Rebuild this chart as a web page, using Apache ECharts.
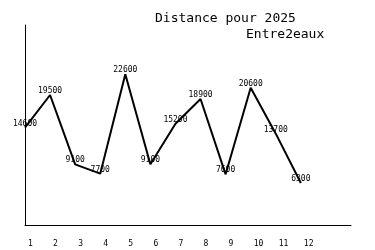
<!DOCTYPE html>
<html><head><meta charset="utf-8">
<script src="https://cdn.jsdelivr.net/npm/echarts@6/dist/echarts.min.js"></script>
<style>html,body{margin:0;padding:0;background:#fff}#c{width:375px;height:250px}</style>
</head><body><div id="c"></div>
<script>
var months = [1,2,3,4,5,6,7,8,9,10,11,12];
var distances = [14600,19500,9100,7700,22600,9100,15200,18900,7600,20600,13700,6300];
var titleText = 'Distance pour 2025';
var subtitleText = 'Entre2eaux';

var chart = echarts.init(document.getElementById('c'), null, {renderer:'canvas'});
chart.setOption({
  animation:false,
  backgroundColor:'#fff',
  title:[
    {text:titleText, left:155, top:12, padding:0,
     textStyle:{fontFamily:'DejaVu Sans Mono', fontSize:13, fontWeight:'normal', color:'#000'}},
    {text:subtitleText, left:246, top:28, padding:0,
     textStyle:{fontFamily:'DejaVu Sans Mono', fontSize:13, fontWeight:'normal', color:'#000'}}
  ],
  grid:{left:25, right:24, top:25, bottom:25, containLabel:false},
  xAxis:{type:'value', min:1, max:14, interval:1,
    axisLine:{show:true, onZero:false, lineStyle:{color:'#000', width:1}},
    axisTick:{show:false}, splitLine:{show:false},
    axisLabel:{show:true, color:'#000', fontFamily:'DejaVu Sans Mono', fontSize:8,
      align:'left', margin:15, padding:[0,0,0,3],
      formatter:function(v){return v<=12 ? String(v) : '';}}},
  yAxis:{type:'value', min:0, max:30000,
    axisLine:{show:true, lineStyle:{color:'#000', width:1}},
    axisTick:{show:false}, axisLabel:{show:false}, splitLine:{show:false}},
  series:[{
    type:'line',
    data: months.map(function(m,i){return [m, distances[i]];}),
    symbol:'circle', symbolSize:0, showSymbol:true,
    itemStyle:{color:'#000'},
    lineStyle:{color:'#000', width:2},
    labelLayout:{hideOverlap:false},
    label:{show:true, position:'top', distance:0, color:'#000',
      fontFamily:'DejaVu Sans Mono', fontSize:8}
  }]
});
</script></body></html>
